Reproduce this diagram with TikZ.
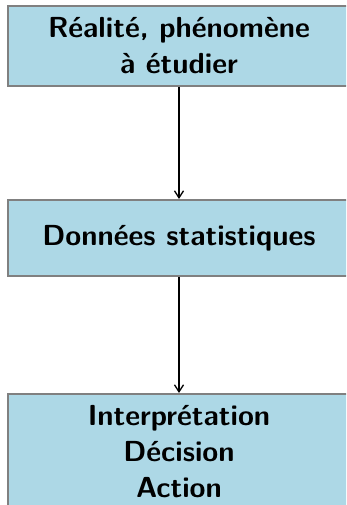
\documentclass[tikz,border=0pt]{standalone}
\usetikzlibrary{arrows.meta}
\begin{document}
\begin{tikzpicture}[x=1pt,y=-1pt,
  box/.style={draw=gray,line width=2pt,minimum width=342pt,align=center,inner sep=0pt,
    font=\sffamily\bfseries\fontsize{29}{36}\selectfont},
  arr/.style={-{Straight Barb[length=7pt,width=9pt]},line width=1.3pt}]
\definecolor{lb}{RGB}{173,216,230}
\useasboundingbox (0,0) rectangle (346,505);
\clip (0,0) rectangle (346,505);
\node[box,fill=lb,minimum height=80pt,anchor=north west] (a) at (7,5) {Réalité, phénomène\\à étudier};
\node[box,fill=lb,minimum height=76pt,anchor=north west] (b) at (7,199) {Données statistiques};
\node[box,fill=lb,minimum height=116pt,anchor=north west] (c) at (7,393) {Interprétation\\Décision\\Action};
\draw[arr] (a.south) -- (b.north);
\draw[arr] (b.south) -- (c.north);
\end{tikzpicture}
\end{document}
